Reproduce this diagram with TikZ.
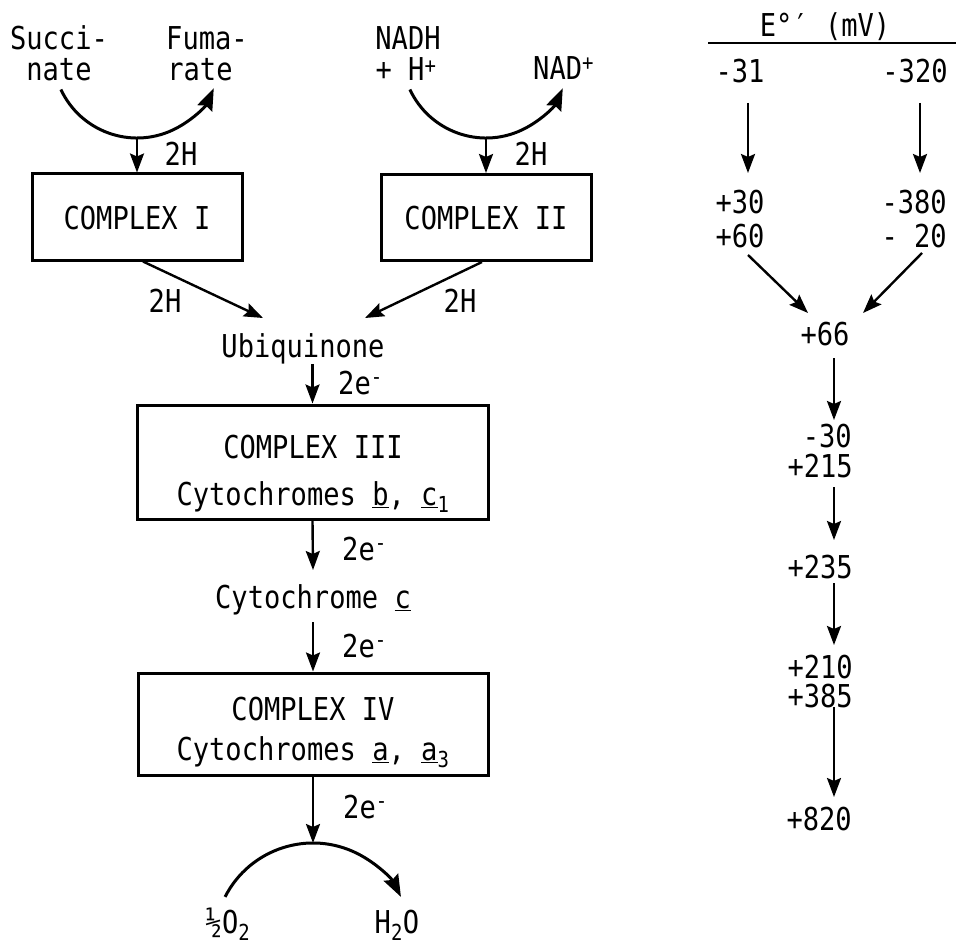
\documentclass[tikz,border=0pt]{standalone}
\usepackage{fontspec}
\setmainfont[FakeStretch=0.86]{DejaVu Sans Mono}
\usetikzlibrary{arrows.meta}
\begin{document}
\begin{tikzpicture}[x=1pt,y=1pt,
  lbl/.style={font=\fontsize{31.5}{34}\selectfont, inner sep=0pt, anchor=base},
  lblw/.style={lbl, anchor=base west},
  lble/.style={lbl, anchor=base east},
  top/.style={text depth=0pt},
  low/.style={text height=19pt},
  arr/.style={line width=2.4pt, -{Stealth[length=19pt,width=14pt,inset=3pt]}},
  arcarr/.style={line width=3pt, -{Stealth[length=22pt,width=16pt,inset=3pt]}},
  box/.style={draw, line width=3pt, inner sep=0pt, minimum width=210pt, minimum height=86pt}]
\useasboundingbox (0,0) rectangle (956,-947);

% ---------- top left: succinate -> fumarate
\node[lbl, top] (succ1) at (59,-50) {Succi-};
\node[lbl, low] (succ2) at (59,-81) {nate};
\node[lbl, top] (fum1) at (207,-50) {Fuma-};
\node[lbl, low] (fum2) at (200,-81) {rate};
\coordinate (a1s) at (60.9,-89.5);
\coordinate (a1b) at (137,-138);
\draw[arcarr] (a1s) arc[start angle=205, end angle=336, radius=84];
\node[box] (c1) at (137,-217) {};
\node[lbl] (c1t) at (137,-229) {COMPLEX I};
\draw[arr] (a1b) -- (c1.north);
\node[lbl] (h1) at (181,-165) {2H};

% ---------- top middle: NADH -> NAD+
\node[lbl, top] (nadh1) at (408,-50) {NADH};
\node[lbl, low] (nadh2) at (406,-81) {+ H\raisebox{-2pt}{\textsuperscript{+}}};
\node[lblw] (nad) at (533,-80) {NAD\textsuperscript{+}};
\coordinate (a2s) at (409.9,-89.5);
\coordinate (a2b) at (486,-138);
\draw[arcarr] (a2s) arc[start angle=205, end angle=336, radius=84];
\node[box] (c2) at (486,-217.5) {};
\node[lbl] (c2t) at (486,-229) {COMPLEX II};
\draw[arr] (a2b) -- (c2.north);
\node[lbl] (h2) at (531,-165) {2H};

% ---------- to ubiquinone
\coordinate (u1) at (263,-318);
\coordinate (u2) at (365,-318);
\draw[arr] ([xshift=6pt]c1.south) -- (u1);
\draw[arr] ([xshift=-4pt]c2.south) -- (u2);
\node[lbl] (h3) at (165,-312) {2H};
\node[lbl] (h4) at (460,-312) {2H};
\node[lbl] (ubi) at (303,-357) {Ubiquinone};

% ---------- complex III
\node[box, minimum width=351pt, minimum height=114pt] (c3) at (312.5,-462) {};
\node[lbl] (c3t) at (313,-458) {COMPLEX III};
\node[lbl] (c3s) at (313,-505) {Cytochromes \underline{b}, \underline{c}\textsubscript{1}};
\draw[arr] (c3.north |- ubi.south) -- (c3.north);
\node[lblw] (e1) at (338,-394) {2e\textsuperscript{-}};

% ---------- cytochrome c
\node[lbl] (cytc) at (313,-608) {Cytochrome \underline{c}};
\coordinate (k1) at (313,-570);
\coordinate (k2) at (313,-622);
\draw[arr] (c3.south) -- (k1);
\node[lblw] (e2) at (342,-560) {2e\textsuperscript{-}};

% ---------- complex IV
\node[box, minimum width=350pt, minimum height=102pt] (c4) at (313,-724) {};
\node[lbl] (c4t) at (313,-720) {COMPLEX IV};
\node[lbl] (c4s) at (313,-760) {Cytochromes \underline{a}, \underline{a}\textsubscript{3}};
\draw[arr] (k2) -- (c4.north);
\node[lblw] (e3) at (342,-657) {2e\textsuperscript{-}};

% ---------- oxygen -> water
\coordinate (a3t) at (313,-843);
\coordinate (a3s) at (225.06,-896.89);
\draw[arr] (c4.south) -- (a3t);
\draw[arcarr] (a3s) arc[start angle=153, end angle=27, radius=98.7];
\node[lblw] (e4) at (343,-818) {2e\textsuperscript{-}};
\node[lbl] (o2) at (228,-933) {½O\textsubscript{2}};
\node[lbl] (h2o) at (397,-933) {H\textsubscript{2}O};

% ---------- right column: potentials
\node[lbl] (hdr) at (825,-37) {E°′ (mV)};
\coordinate (rl) at (708,-43);
\coordinate (rr) at (956,-43);
\draw[line width=2.6pt] (rl) -- (rr);
\node[lbl] (v31) at (740,-83) {-31};
\node[lbl] (v320) at (915,-83) {-320};
\node[lbl, top] (v30) at (740,-213) {+30};
\node[lbl, low] (v60) at (740,-247) {+60};
\node[lble, top] (v380) at (947,-213) {-380};
\node[lble, low] (v20) at (947,-247) {- 20};
\node[lbl] (v66) at (825,-345) {+66};
\node[lble, top] (vm30) at (852,-447) {-30};
\node[lble, low] (v215) at (853,-477) {+215};
\node[lble] (v235) at (853,-578) {+235};
\node[lble, top] (v210) at (853,-678) {+210};
\node[lble, low] (v385) at (853,-707) {+385};
\node[lble] (v820) at (852,-830) {+820};

\coordinate (r1a) at (748,-103); \coordinate (r1b) at (748,-173);
\coordinate (r2a) at (920,-103); \coordinate (r2b) at (920,-173);
\coordinate (r3a) at (748,-255); \coordinate (r3b) at (808,-313);
\coordinate (r4a) at (922,-253); \coordinate (r4b) at (863,-313);
\coordinate (r5a) at (834,-358); \coordinate (r5b) at (834,-420);
\coordinate (r6a) at (834,-487); \coordinate (r6b) at (834,-540);
\coordinate (r7a) at (834,-583); \coordinate (r7b) at (834,-645);
\coordinate (r8a) at (834,-707); \coordinate (r8b) at (834,-797);
\draw[arr] (r1a) -- (r1b);
\draw[arr] (r2a) -- (r2b);
\draw[arr] (r3a) -- (r3b);
\draw[arr] (r4a) -- (r4b);
\draw[arr] (r5a) -- (r5b);
\draw[arr] (r6a) -- (r6b);
\draw[arr] (r7a) -- (r7b);
\draw[arr] (r8a) -- (r8b);
\end{tikzpicture}
\end{document}
